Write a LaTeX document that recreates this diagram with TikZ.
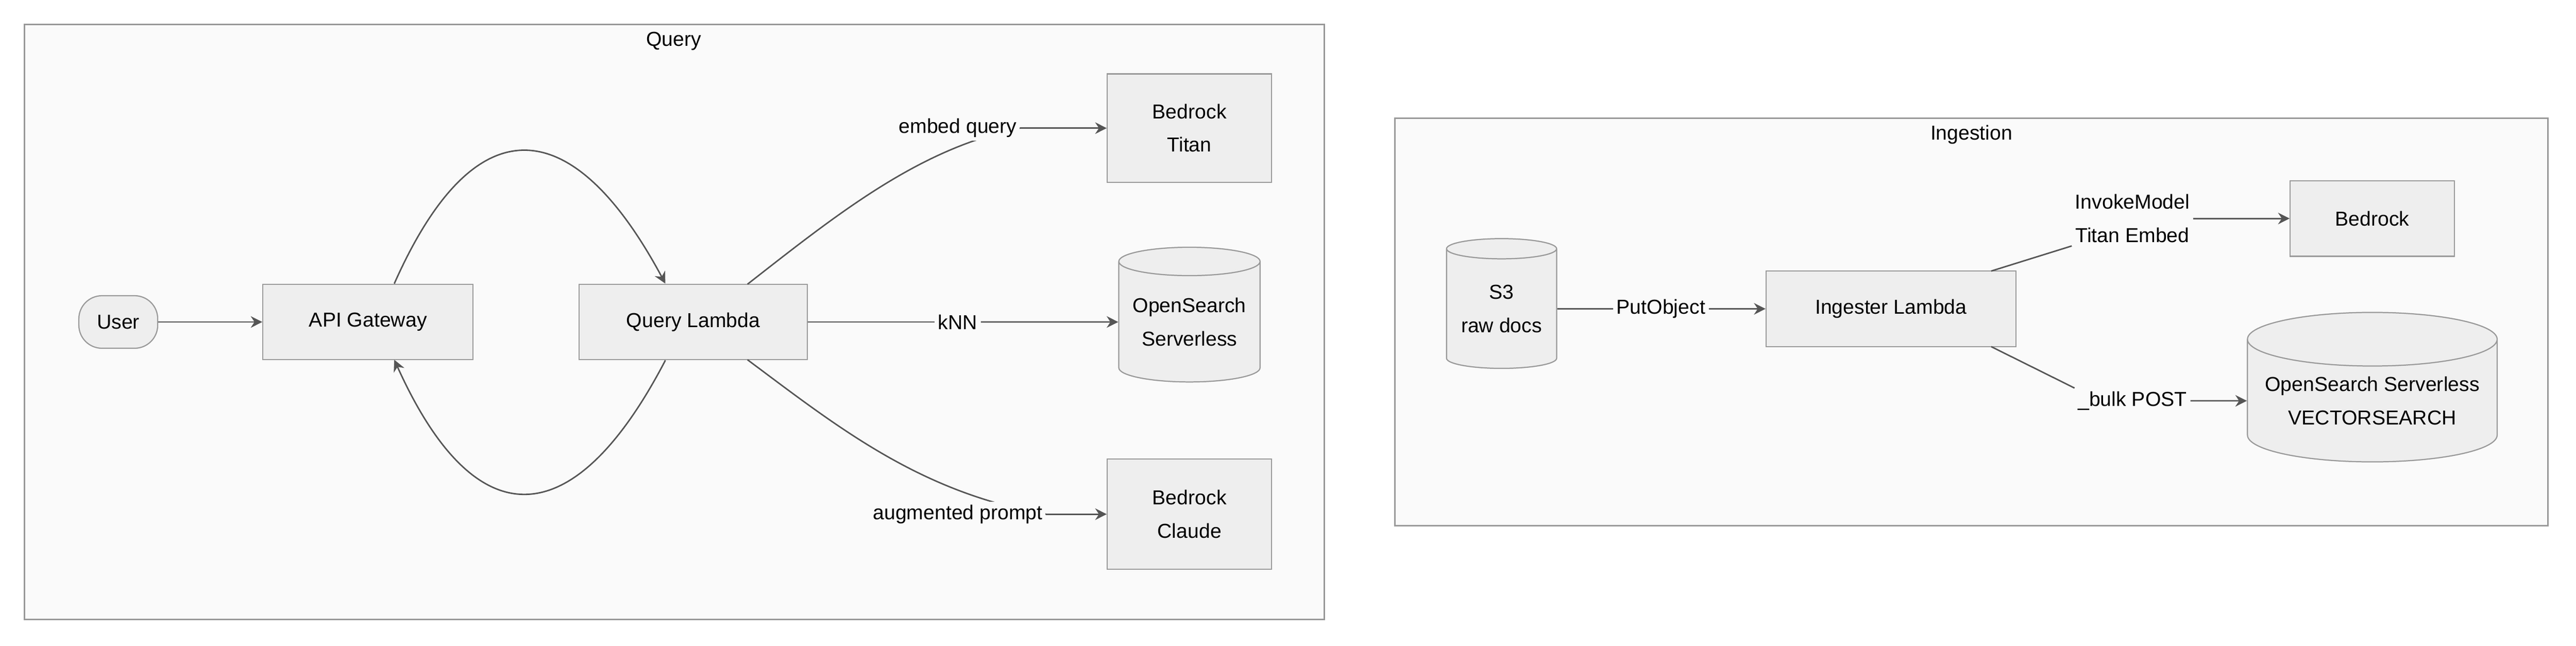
\documentclass[tikz,border=0pt]{standalone}
\usepackage{fontspec}
\setmainfont{Liberation Sans}
\usetikzlibrary{positioning}
\usetikzlibrary{shapes.geometric}
\usetikzlibrary{arrows.meta}
\definecolor{boxfill}{HTML}{FAFAFA}
\definecolor{nodefill}{HTML}{EEEEEE}
\definecolor{linegray}{HTML}{999999}
\definecolor{edgegray}{HTML}{555555}

\begin{document}
\begin{tikzpicture}[
        x = 0.02cm, y = -0.02cm,
        every node/.style = {font=\fontsize{7}{9.5}\selectfont, align=center},
        group/.style = {draw=linegray, fill=boxfill, line width=0.5pt},
        service/.style = {
            draw=linegray,
            fill=nodefill,
            minimum width = #1,
            minimum height = 0.92cm,
            inner sep = 0pt
        },
        service/.default = 2cm,
        store/.style = {
            draw=linegray,
            fill=nodefill,
            cylinder,
            shape border rotate=90,
            aspect=0.25,
            minimum width = #1,
            minimum height = 1.64cm,
            inner sep = 0pt
        },
        store/.default = 1.72cm,
        edge/.style = {draw=edgegray, line width=0.5pt, -{Stealth[length=4pt,width=4pt]}},
        plain/.style = {draw=edgegray, line width=0.5pt},
        lbl/.style = {fill=boxfill, inner sep=1pt}
    ]
    \useasboundingbox (0,0) rectangle (1568,393);
    % groups
    \draw[group] (15,15) rectangle (806,377);
    \node at (410,25) {Query};
    \draw[group] (849,72) rectangle (1551,320);
    \node at (1200,82) {Ingestion};

    % query side
    \node[draw=linegray, fill=nodefill, rounded corners=8pt, minimum width=0.96cm, minimum height=0.64cm] (user) at (72,196) {User};
    \node[service=2.56cm] (api) at (224,196) {API Gateway};
    \node[service=2.78cm] (qlambda) at (422,196) {Query Lambda};
    \node[service=2cm, minimum height=1.32cm] (titan) at (724,78) {Bedrock\\[2pt]Titan};
    \node[store] (oss) at (724,196) {OpenSearch\\[2pt]Serverless};
    \node[service=2cm, minimum height=1.34cm] (claude) at (724,313) {Bedrock\\[2pt]Claude};

    \draw[edge] (user) -- (api);
    \draw[edge] (api.north) ++(16,0) coordinate (a1) .. controls (290,60) and (350,70) .. (qlambda.north west -| 405,173);
    \draw[edge] (qlambda.south) ++(-17,0) .. controls (350,325) and (290,330) .. (240,219);

    \node[lbl] (lembed) at (583,78) {embed query};
    \node[lbl] (lknn) at (583,196) {kNN};
    \node[lbl] (lprompt) at (583,313) {augmented prompt};
    \begin{scope}[on background layer/.style={}]
    \end{scope}
    \draw[plain] (455,173) .. controls (510,130) and (560,90) .. (lembed.east);
    \draw[edge] (lembed.east) .. controls (640,78) .. (titan.west);
    \draw[plain] (qlambda.east) -- (lknn.west);
    \draw[edge] (lknn.east) -- (oss.west);
    \draw[plain] (455,219) .. controls (510,260) and (560,300) .. (lprompt.east);
    \draw[edge] (lprompt.east) -- (claude.west);
    \node[lbl] at (583,78) {embed query};
    \node[lbl] at (583,313) {augmented prompt};

    % ingestion side
    \node[store=1.34cm, minimum height=1.58cm] (s3) at (914,188) {S3\\[2pt]raw docs};
    \node[service=3.04cm] (ingester) at (1151,188) {Ingester Lambda};
    \node[service=2cm] (bedrock) at (1444,133) {Bedrock};
    \node[store=3.04cm, minimum height=1.82cm] (vector) at (1444,244) {OpenSearch Serverless\\[2pt]VECTORSEARCH};

    \node[lbl] (lput) at (1011,188) {PutObject};
    \node[lbl] (linvoke) at (1298,133) {InvokeModel\\[2pt]Titan Embed};
    \node[lbl] (lbulk) at (1298,244) {\_bulk POST};
    \draw[plain] (s3.east) -- (lput.west);
    \draw[edge] (lput.east) -- (ingester.west);
    \draw[plain] (1212,165) -- (linvoke.south west);
    \draw[edge] (linvoke.east) .. controls (1340,133) .. (bedrock.west);
    \draw[plain] (1212,211) -- (lbulk.north west);
    \draw[edge] (lbulk.east) -- (vector.west);
    \node[lbl] at (1298,133) {InvokeModel\\[2pt]Titan Embed};
    \node[lbl] at (1298,244) {\_bulk POST};
\end{tikzpicture}
\end{document}
